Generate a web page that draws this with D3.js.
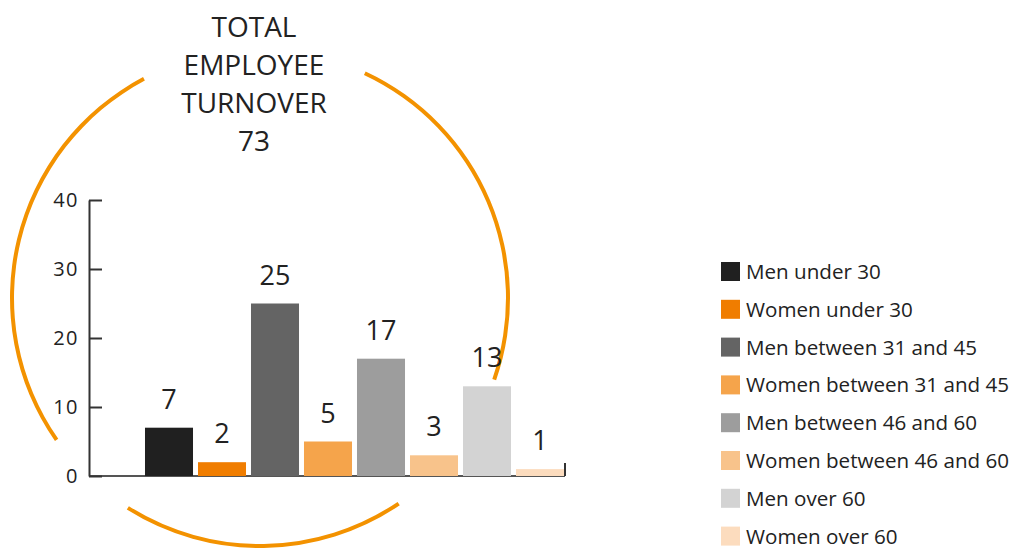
<!DOCTYPE html>
<html>
<head>
<meta charset="utf-8">
<script src="https://cdn.jsdelivr.net/npm/d3@7"></script>
<style>
  html, body { margin: 0; padding: 0; background: #ffffff; }
  svg { display: block; font-family: "Open Sans", sans-serif; }
</style>
</head>
<body>
<svg id="chart" width="1016" height="549"></svg>
<script>
const categories = ["Men under 30", "Women under 30", "Men between 31 and 45", "Women between 31 and 45",
                    "Men between 46 and 60", "Women between 46 and 60", "Men over 60", "Women over 60"];
const values = [7, 2, 25, 5, 17, 3, 13, 1];
const colors = ["#202020", "#f07d00", "#646464", "#f5a44b", "#9d9d9d", "#f8c38b", "#d3d3d3", "#fcdcbe"];
const yTicks = [0, 10, 20, 30, 40];
const titleLines = ["TOTAL", "EMPLOYEE", "TURNOVER", "73"];

const svg = d3.select("#chart");

// Orange ring with gaps
const ring = { cx: 260, cy: 298, r: 248 };
const deg = Math.PI / 180;
const ringArcs = [
  [-124.9, -27.9],  // left side
  [146.0, 212.2],   // bottom
  [25.0, 109.2]     // right side
];
const arcGen = d3.arc().innerRadius(ring.r - 2).outerRadius(ring.r + 2);
svg.append("g").attr("transform", `translate(${ring.cx},${ring.cy})`)
  .selectAll("path").data(ringArcs).join("path")
  .attr("d", d => arcGen({ startAngle: d[0] * deg, endAngle: d[1] * deg }))
  .attr("fill", "#f39200");

// Title
svg.append("g").selectAll("text").data(titleLines).join("text")
  .attr("x", 254).attr("y", (d, i) => 37 + i * 38)
  .attr("text-anchor", "middle")
  .style("font-size", "28px").attr("fill", "#222")
  .text(d => d);

// Scales
const y = d3.scaleLinear().domain([0, 40]).range([476, 200]);
const x = d3.scaleBand().domain(categories).range([142.5, 566.5]).paddingInner(0.094).paddingOuter(0.047);

// Baseline
svg.append("line").attr("x1", 89).attr("x2", 565).attr("y1", y(0)).attr("y2", y(0))
  .attr("stroke", "#555").attr("stroke-width", 2);
svg.append("line").attr("x1", 565).attr("x2", 565).attr("y1", y(0)).attr("y2", y(0) - 13)
  .attr("stroke", "#333").attr("stroke-width", 2);

// Bars
svg.append("g").selectAll("rect").data(values).join("rect")
  .attr("x", (d, i) => x(categories[i]))
  .attr("width", x.bandwidth())
  .attr("y", d => y(d))
  .attr("height", d => y(0) - y(d))
  .attr("fill", (d, i) => colors[i]);

// Value labels
svg.append("g").selectAll("text").data(values).join("text")
  .attr("x", (d, i) => x(categories[i]) + x.bandwidth() / 2)
  .attr("y", d => y(d) - 19)
  .attr("text-anchor", "middle")
  .style("font-size", "27px").attr("fill", "#222")
  .text(d => d);

// Y axis
const yAxis = d3.axisLeft(y).tickValues(yTicks).tickSizeInner(-13).tickSizeOuter(0).tickPadding(10);
const gy = svg.append("g").attr("transform", "translate(89,0)").call(yAxis);
gy.attr("font-size", null).attr("font-family", null);
gy.select(".domain").attr("stroke", "#333").attr("stroke-width", 2);
gy.selectAll(".tick line").attr("stroke", "#333").attr("stroke-width", 2);
gy.selectAll(".tick text").style("font-size", "20px").style("letter-spacing", "1.5px")
  .style("font-family", "'Open Sans', sans-serif")
  .attr("fill", "#222");

// Legend
const legend = svg.append("g").attr("transform", "translate(721,262)");
const rows = legend.selectAll("g").data(categories).join("g")
  .attr("transform", (d, i) => `translate(0,${i * 37.8})`);
rows.append("rect").attr("width", 19).attr("height", 19).attr("fill", (d, i) => colors[i]);
rows.append("text").attr("x", 25).attr("y", 17).style("font-size", "20.6px").attr("fill", "#222").text(d => d);
</script>
</body>
</html>
